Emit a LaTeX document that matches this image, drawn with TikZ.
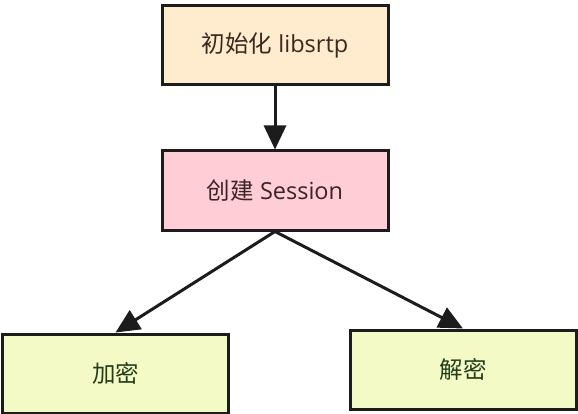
\documentclass[tikz,border=0pt]{standalone}
\usepackage{fontspec}
\setmainfont{Open Sans}
\newfontfamily\cjk{Noto Sans CJK SC}
\usetikzlibrary{arrows.meta}
\definecolor{topfill}{RGB}{255,235,205}
\definecolor{midfill}{RGB}{255,205,214}
\definecolor{botfill}{RGB}{243,250,198}
\definecolor{boxline}{RGB}{28,28,28}
\definecolor{toptext}{RGB}{60,40,30}
\definecolor{midtext}{RGB}{60,35,40}
\definecolor{bottext}{RGB}{35,60,25}
\tikzset{
  stepbox/.style={draw=boxline, line width=3pt, minimum width=226pt, minimum height=79pt, inner sep=0pt, font=\fontsize{23.5}{28}\selectfont},
  conn/.style={draw=boxline, line width=3pt, -{Triangle[length=24pt,width=22pt]}}
}
\begin{document}
\begin{tikzpicture}[x=1pt,y=-1pt]
\useasboundingbox (0,0) rectangle (578,414);
\node[stepbox, fill=topfill, text=toptext] (init) at (275,45.5) {{\cjk 初始化} libsrtp};
\node[stepbox, fill=midfill, text=midtext] (sess) at (275,190.5) {{\cjk 创建} Session};
\node[stepbox, fill=botfill, text=bottext] (enc) at (115.5,373.5) {\cjk 加密};
\node[stepbox, fill=botfill, text=bottext] (dec) at (463,369.5) {\cjk 解密};
\draw[conn] (init.south) -- (sess.north);
\draw[conn] (sess.south) -- (enc.north);
\draw[conn] (sess.south) -- (dec.north);
\end{tikzpicture}
\end{document}
